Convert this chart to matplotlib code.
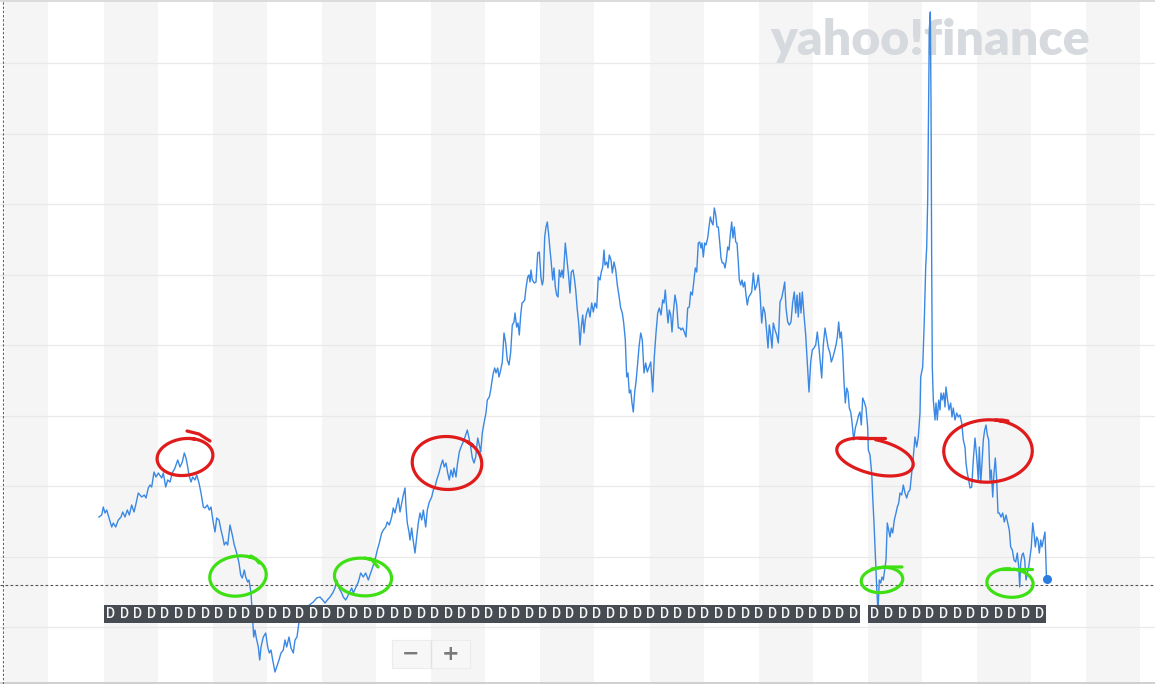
import numpy as np
import matplotlib
matplotlib.use("Agg")
import matplotlib.pyplot as plt
from matplotlib.patches import Rectangle

# ---------------- data (trading-day index, price level in chart units) ----------------
days = [0, 2.7, 4.3, 6, 7.7, 10, 12.7, 14.3, 16.7, 19.3, 22, 23.7, 26, 28.3, 30.3, 32.7, 35, 36.7, 39.3, 42.7,
        45.3, 47, 49.3, 51, 52.7, 55, 57, 59.3, 62.7, 64.3, 66.7, 68.7, 71, 73.3, 76, 78.7, 81, 83.3, 85.3, 87,
        88.7, 90, 92, 93.7, 96, 97.7, 100, 102, 104.3, 106, 108.3, 110.3, 112, 114.3, 116, 117.7, 120, 122, 123.7, 125.3,
        127, 128.7, 131, 133.3, 135.3, 137.7, 140, 141.7, 143.3, 145.3, 146.7, 148.7, 150, 152, 153.3, 154.7, 156, 157.3, 159.3, 160.7,
        162, 164.3, 166.7, 168.7, 170.3, 172, 173.7, 176, 177.7, 180, 182, 184.3, 186, 187.7, 190, 192, 194.3, 196, 198, 200,
        202.7, 206, 207.7, 214.3, 217.7, 221, 223.7, 226, 228.3, 231, 233.7, 236, 237.7, 240, 242.7, 244.3, 246.7, 248.3, 250.3, 252.7,
        254.3, 257, 259.3, 261.7, 264.3, 266.7, 269.3, 271.7, 273.7, 276, 278.3, 280.3, 282.7, 284.3, 286.7, 288.3, 290.3, 292.7, 294.3, 296,
        297.7, 299.3, 301, 302.7, 304.3, 306, 307, 308.3, 310, 311, 312.7, 313.7, 316, 317.7, 319.3, 321, 322.7, 324.3, 326.7, 328.3,
        330.3, 332.7, 334.3, 336, 337.7, 340, 342, 343.7, 345.3, 347, 348.7, 350.3, 352, 353.7, 355, 357, 358.3, 360.3, 362, 363.7,
        365, 366.7, 368.3, 370, 371.7, 373.3, 375, 376.7, 378.7, 380.3, 381.7, 383.3, 385, 387, 388.3, 390.3, 391.7, 392.7, 394.3, 395.7,
        397, 398.7, 400, 401.7, 403.3, 405, 406.7, 408.3, 410, 411.7, 413.3, 415, 416, 417.7, 419, 420.3, 421.7, 423, 424.3, 425.7,
        427, 428.7, 430, 431, 432, 433.3, 435.3, 437, 438.7, 440.3, 442, 443.3, 444.3, 445.7, 447, 448.3, 449.7, 451, 452, 453.7,
        455, 456.3, 457.7, 459, 460.3, 461.7, 463, 464.3, 466.3, 468.3, 469.7, 471, 472.3, 474, 475.3, 476.7, 478.3, 479.7, 481, 482.3,
        483.7, 485, 486.3, 487.7, 489.3, 491, 492.7, 494.3, 496, 497.7, 499.3, 501, 502.3, 503.7, 505, 506, 507.7, 509, 510.3, 512,
        513.3, 515, 516.7, 518.3, 520.3, 521.7, 523.3, 524.7, 526.3, 527.7, 529, 530.3, 531.7, 533, 534.3, 535.7, 537, 538.7, 540, 541.7,
        543.3, 545, 546.7, 548.3, 550, 551.7, 553.7, 555.3, 557, 558.7, 560.3, 562, 563.7, 565, 566.3, 567.7, 569, 570.3, 571.7, 573,
        574.3, 576, 577.7, 579.3, 581, 582, 583.7, 585.3, 587, 588.7, 590.3, 591.7, 593.3, 595, 596.3, 597.7, 599.3, 600.7, 602, 603,
        604.3, 605.7, 607, 608.7, 610, 611.3, 612.7, 614, 615.3, 616.7, 618, 619.3, 620.7, 622, 623.3, 624.7, 626, 627.3, 628.7, 630,
        631.3, 632.7, 634, 635.3, 636.7, 638, 639.3, 640.3, 641.7, 643, 644.3, 645.7, 647, 648.3, 649.7, 651, 652.7, 654.3, 656, 657.7,
        659.3, 661, 662.7, 664.3, 666, 667.7, 669, 670.3, 671.7, 673, 674.3, 676, 677.7, 679.3, 681, 682.7, 684.3, 685.7, 687, 688.7,
        690.3, 692, 693.7, 695.3, 696.7, 698, 699.3, 700.7, 702, 703.3, 705, 706.7, 708.3, 710, 711.7, 713.3, 715, 716.7, 718.3, 720,
        721.3, 722.7, 724.3, 726, 727.7, 729.3, 731, 732.3, 733.7, 735.3, 737, 738.3, 739.7, 741, 742.3, 743.7, 745, 746.3, 747.7, 749,
        750.3, 751.7, 753, 754.7, 756.3, 758, 759.7, 761, 762.3, 763.7, 765.3, 767, 768.7, 769.3, 771, 772.7, 773.7, 775, 776.3, 777.7,
        779, 780.3, 781.7, 783, 784.3, 785.7, 787, 788.3, 789.7, 791, 792.3, 793.7, 795.3, 797, 798.3, 799.7, 801, 802.7, 804.3, 806,
        807.7, 809.3, 811, 812.7, 814.3, 816, 817.7, 819.3, 821, 821.7, 823.7, 825.3, 826.7, 827.7, 828.7, 829.7, 830.3, 831.3, 832, 832.7,
        833.3, 834.3, 836, 837, 838.3, 839.7, 841, 842, 843.3, 844.7, 846, 847, 848.3, 850, 851.7, 853, 854.3, 856, 857.7, 859.3,
        861, 862.7, 864.3, 866, 867, 868.3, 869.7, 871, 872.7, 874.3, 876, 877.7, 879.3, 880.3, 881.7, 883, 884.3, 885.7, 887, 888.3,
        889.7, 891, 892.3, 893.7, 895, 896.3, 897.7, 899, 900.3, 902, 903.7, 905.3, 907, 908.7, 910.3, 911.7, 913.3, 915, 916.7, 918.3,
        919.7, 920.7, 921.7, 923, 924.3, 925.7, 927, 928.3, 929.7, 931, 932.3, 933.7, 935, 936.3, 937.7, 939, 940.3, 941.7, 943, 944.3,
        946, 947.5]

values = [110, 112, 120, 114, 117, 109, 100, 104, 100, 107, 110, 115, 110, 117, 112, 122, 115, 122, 134, 130,
          132, 129, 139, 142, 140, 155, 150, 154, 149, 154, 140, 147, 145, 154, 159, 167, 160, 165, 174, 169,
          160, 152, 145, 150, 147, 152, 144, 134, 120, 119, 122, 117, 120, 104, 95, 109, 107, 97, 90, 82,
          85, 82, 102, 92, 82, 74, 64, 52, 49, 57, 50, 45, 47, 34, 12, -10, -3, -11, -20, -33,
          -20, -10, -6, -20, -26, -23, -33, -45, -40, -33, -26, -23, -13, -20, -10, -21, -26, -13, -10, 5,
          12, 17, 20, 25, 29, 30, 27, 24, 27, 30, 34, 39, 47, 39, 34, 30, 27, 30, 34, 39,
          34, 40, 45, 54, 50, 54, 47, 54, 60, 67, 77, 84, 94, 97, 100, 105, 102, 110, 119, 114,
          122, 129, 115, 124, 132, 139, 120, 104, 95, 87, 99, 90, 74, 90, 104, 114, 107, 117, 100, 117,
          125, 130, 137, 140, 147, 154, 162, 167, 160, 164, 154, 147, 157, 150, 159, 150, 162, 175, 180, 184,
          187, 192, 197, 189, 180, 169, 164, 170, 189, 182, 175, 194, 204, 214, 227, 230, 237, 244, 254, 259,
          254, 259, 250, 257, 265, 294, 284, 267, 262, 275, 302, 305, 314, 300, 304, 292, 312, 324, 325, 327,
          339, 350, 352, 345, 357, 347, 344, 345, 374, 375, 349, 342, 347, 390, 400, 405, 392, 377, 367, 347,
          359, 340, 332, 330, 357, 350, 357, 349, 384, 364, 350, 334, 355, 357, 349, 337, 317, 304, 282, 300,
          312, 294, 307, 314, 319, 310, 324, 315, 324, 319, 350, 347, 355, 360, 377, 362, 365, 359, 372, 367,
          354, 365, 357, 342, 329, 319, 314, 304, 287, 250, 254, 234, 237, 224, 215, 235, 245, 264, 280, 294,
          287, 254, 264, 255, 260, 265, 235, 270, 294, 314, 319, 312, 327, 324, 337, 319, 304, 317, 312, 295,
          314, 332, 322, 299, 299, 297, 299, 295, 290, 319, 320, 335, 332, 347, 359, 355, 384, 385, 379, 384,
          370, 384, 382, 389, 400, 410, 405, 402, 419, 412, 400, 400, 385, 369, 364, 364, 359, 367, 380, 377,
          392, 405, 389, 400, 385, 384, 365, 347, 342, 347, 340, 345, 332, 322, 330, 332, 335, 354, 337, 342,
          352, 334, 304, 320, 314, 295, 279, 302, 292, 279, 304, 297, 292, 284, 325, 329, 337, 345, 319, 305,
          302, 305, 325, 335, 314, 332, 310, 334, 314, 335, 312, 292, 265, 235, 265, 277, 279, 282, 295, 279,
          265, 249, 282, 299, 289, 279, 274, 265, 269, 275, 282, 290, 305, 289, 295, 275, 245, 224, 239, 235,
          219, 215, 205, 187, 199, 205, 212, 215, 202, 229, 225, 219, 199, 177, 172, 154, 130, 104, 74, 40,
          15, 47, 44, 50, 47, 57, 67, 104, 97, 90, 99, 94, 107, 114, 120, 124, 134, 132, 142, 134,
          129, 135, 137, 154, 170, 190, 180, 190, 214, 250, 260, 307, 360, 380, 427, 527, 594, 615, 527, 360,
          260, 227, 207, 224, 207, 227, 217, 234, 227, 234, 220, 240, 229, 217, 224, 210, 219, 207, 214, 210,
          212, 204, 187, 180, 164, 154, 147, 139, 140, 167, 189, 170, 147, 180, 144, 164, 187, 197, 202, 192,
          187, 147, 157, 130, 154, 169, 147, 114, 114, 110, 114, 105, 112, 104, 97, 80, 77, 67, 65, 74,
          60, 40, 64, 72, 74, 67, 47, 54, 60, 70, 80, 104, 94, 80, 90, 87, 74, 87, 80, 87,
          95, 48]

baseline_value = 42          # dashed reference level (previous close)
grid_step = 70.5             # spacing of the horizontal grid
n_dividends_a = 56           # "D" event markers, first run
n_dividends_b = 13           # "D" event markers, second run

# ---------------- figure ----------------
W, H = 1155, 684
fig = plt.figure(figsize=(W / 100, H / 100), dpi=100)
ax = fig.add_axes([0, 0, 1, 1])
x0, y_bottom, y_top = -99, -57, 627
ax.set_xlim(x0, x0 + W)
ax.set_ylim(y_bottom, y_top)
ax.axis("off")

# alternating vertical bands
ax.add_patch(Rectangle((x0 + 5, y_bottom), 43, y_top - y_bottom, color="#f5f5f5", lw=0, zorder=0))
k = 0
while True:
    s = 5 + k * 109.1
    if s > x0 + W:
        break
    ax.add_patch(Rectangle((s, y_bottom), 54, y_top - y_bottom, color="#f5f5f5", lw=0, zorder=0))
    k += 1

# horizontal grid
for i in range(9):
    ax.axhline(i * grid_step, color="#e9e9e9", lw=0.9, zorder=1)
ax.axhline(y_top - 0.5, color="#d6d6d6", lw=1.2, zorder=1)
ax.axhline(y_bottom + 1.5, color="#c8c8c8", lw=1.2, zorder=1)
ax.axvline(x0 + 2.5, color="#666666", lw=0.8, ls=(0, (2.2, 1.6)), zorder=1)

# watermark
ax.text(831, 572, "yahoo!finance", fontsize=36, fontfamily="Lato", fontweight="heavy",
        color="#d6d9dd", ha="center", va="baseline", zorder=1)

# dashed previous-close line
ax.axhline(baseline_value, color="#555555", lw=0.8, ls=(0, (2.5, 2)), zorder=2)

# price line
ax.plot(days, values, color="#3a88e4", lw=1.0, zorder=3, solid_joinstyle="round")
ax.plot(days[-1:], values[-1:], "o", color="#2a7de1", ms=6.5, mec="none", zorder=4)

# hand-drawn annotations
def scribble(cx, cy, rx, ry, color, start, sweep, wob=0.06, phase=0.0, tilt=0.0):
    th = np.radians(np.linspace(start, start - sweep, 200))
    rr = 1 + wob * np.sin(2 * th + phase)
    xx = rx * rr * np.cos(th)
    yy = ry * rr * np.sin(th)
    c, s = np.cos(np.radians(tilt)), np.sin(np.radians(tilt))
    ax.plot(cx + c * xx - s * yy, cy + s * xx + c * yy, color=color, lw=2.3,
            solid_capstyle="round", zorder=5)

def stroke(xs, ys, color):
    ax.plot(xs, ys, color=color, lw=2.3, solid_capstyle="round", zorder=5)

red, green = "#e01b1b", "#3ee014"
scribble(86, 170, 27, 19, red, 80, 370, phase=0.5)
stroke([88, 100, 111], [196, 193, 186], red)
scribble(348, 164, 33, 28, red, 60, 370, phase=1.0, tilt=-10)
scribble(776, 170, 37, 18, red, 95, 350, phase=2.0, tilt=-12)
stroke([760, 772, 786], [189, 189, 189], red)
scribble(889, 176, 43, 32, red, 85, 370, phase=0.3, tilt=-8)
stroke([896, 903, 909], [207, 207, 206], red)
scribble(139, 51, 27, 21, green, 70, 370, phase=0.8)
stroke([152, 157, 160], [71, 68, 64], green)
scribble(264, 50, 27, 20, green, 80, 370, phase=1.4, tilt=-6)
stroke([266, 273, 279], [69, 67, 60], green)
scribble(783, 47, 20, 13, green, 75, 360, phase=0.6)
stroke([773, 785, 803], [58, 60, 60], green)
scribble(911, 44, 22, 15, green, 80, 350, phase=2.2)
stroke([902, 920, 933], [58, 58, 58], green)

# "D" event markers
def d_markers(first, step, n):
    for j in range(n):
        cx = first + j * step
        ax.add_patch(Rectangle((cx - step / 2, 4), step, 18, color="#474c52", lw=0, zorder=6))
        ax.text(cx, 12.5, "D", fontsize=10, fontfamily="Roboto", fontweight="medium",
                color="#f6f6f6", ha="center", va="center", zorder=7)

d_markers(12, 13.5, n_dividends_a)
d_markers(776, 13.7, n_dividends_b)

# zoom buttons
ax.add_patch(Rectangle((294, -42), 78, 28, facecolor="#e6e6e6", lw=0, zorder=6))
ax.add_patch(Rectangle((293, -41), 78, 28, facecolor="#f7f7f7", edgecolor="#ececec", lw=0.8, zorder=7))
ax.plot([332, 332], [-40, -14], color="#e2e2e2", lw=1, zorder=8)
ax.text(312, -27, "\u2212", fontsize=15, fontweight="bold", color="#7a7a7a",
        ha="center", va="center", zorder=9)
ax.text(352, -27, "+", fontsize=15, fontweight="bold", color="#7a7a7a",
        ha="center", va="center", zorder=9)

fig.savefig("out.png", dpi=100, facecolor="white")
